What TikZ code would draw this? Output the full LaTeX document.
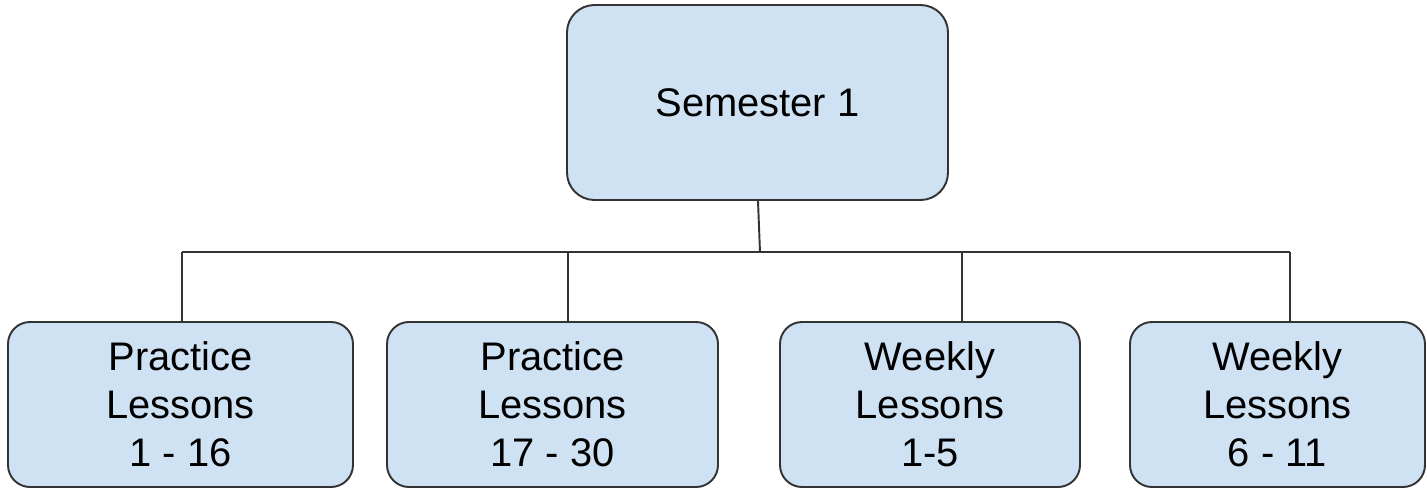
\documentclass[tikz,border=0pt]{standalone}
\usepackage{fontspec}
\setmainfont{Liberation Sans}
\usetikzlibrary{positioning,calc}
\definecolor{planfill}{HTML}{CFE2F3}
\definecolor{planline}{HTML}{333333}
\tikzset{
    plan box/.style={
        rectangle,
        draw=planline,
        fill=planfill,
        line width=1.1pt,
        inner sep=0pt,
        align=center,
        font=\fontsize{22.7}{27.2}\selectfont,
    },
    semester box/.style={plan box, minimum width=7.62cm, minimum height=3.9cm, rounded corners=0.55cm},
    lesson box/.style={plan box, minimum height=3.3cm, rounded corners=0.44cm, minimum width=#1},
    plan link/.style={draw=planline, line width=1.1pt}
}

\begin{document}
\begin{tikzpicture}
\useasboundingbox (0,0) rectangle (28.54,9.8);

% top of the tree
\node[semester box] (sem) at (15.15,7.75) {Semester 1};

% the four lesson blocks
\node[lesson box=6.9cm] (prac1) at (3.61,1.71) {Practice\\Lessons\\1 - 16};
\node[lesson box=6.62cm] (prac2) at (11.05,1.71) {Practice\\Lessons\\17 - 30};
\node[lesson box=6.0cm] (week1) at (18.6,1.71) {Weekly\\Lessons\\1-5};
\node[lesson box=5.9cm] (week2) at (25.55,1.71) {Weekly\\Lessons\\6 - 11};

% bus line
\coordinate (bus-sem) at (15.2,4.76);
\coordinate (bus-prac1) at (3.64,4.76);
\coordinate (bus-prac2) at (11.36,4.76);
\coordinate (bus-week1) at (19.24,4.76);
\coordinate (bus-week2) at (25.8,4.76);

\draw[plan link] ($(sem.south)+(0.01,0)$) -- (bus-sem);
\draw[plan link] (bus-prac1) -- (bus-week2);
\draw[plan link] (bus-prac1) -- (bus-prac1 |- prac1.north);
\draw[plan link] (bus-prac2) -- (bus-prac2 |- prac2.north);
\draw[plan link] (bus-week1) -- (bus-week1 |- week1.north);
\draw[plan link] (bus-week2) -- (bus-week2 |- week2.north);

\end{tikzpicture}
\end{document}
